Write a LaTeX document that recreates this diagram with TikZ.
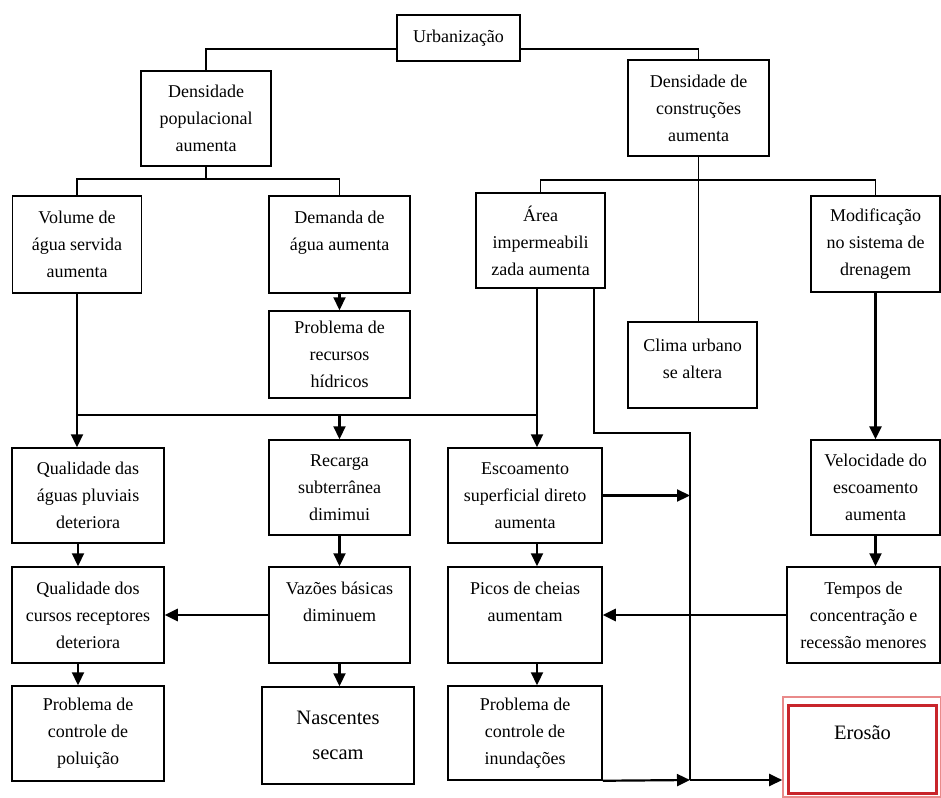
\documentclass[tikz,border=0pt]{standalone}
\usepackage{fontspec}
\setmainfont{Liberation Serif}
\usetikzlibrary{arrows.meta}
\definecolor{redout}{HTML}{E98A8A}
\definecolor{redin}{HTML}{C8252B}
\begin{document}
\begin{tikzpicture}[x=1pt,y=-1pt,
  box/.style={draw, line width=1.5pt, align=center, inner sep=0pt, font=\fontsize{18}{27}\selectfont},
  bigbox/.style={box, font=\fontsize{20.5}{35}\selectfont},
  ln/.style={line width=1.3pt},
  arr/.style={line width=2.2pt, -{Triangle[length=13pt,width=12pt]}}]
\useasboundingbox (0,0) rectangle (941,797);
% boxes
\node[box, minimum width=123, minimum height=46] (urb) at (458.5,38) {Urbanização};
\node[box, minimum width=130, minimum height=95] (dpop) at (206,118.5) {Densidade\\populacional\\aumenta};
\node[box, minimum width=141, minimum height=96] (dcon) at (698.5,108) {Densidade de\\construções\\aumenta};
\node[box, minimum width=129, minimum height=97] (vol) at (77,244.5) {Volume de\\água servida\\aumenta};
\node[box, minimum width=141, minimum height=97] (dem) at (339.5,244.5) {Demanda de\\água aumenta\\\mbox{}};
\node[box, minimum width=129, minimum height=95] (area) at (540.5,240.5) {Área\\impermeabili\\zada aumenta};
\node[box, minimum width=129, minimum height=96] (mod) at (875.5,244) {Modificação\\no sistema de\\drenagem};
\node[box, minimum width=141, minimum height=87] (prob) at (339.5,354.5) {Problema de\\recursos\\hídricos};
\node[box, minimum width=129, minimum height=86] (clima) at (692.5,365) {Clima urbano\\se altera\\[-14pt]\mbox{}};
\node[box, minimum width=152, minimum height=95] (qa) at (88,495.5) {Qualidade das\\águas pluviais\\deteriora};
\node[box, minimum width=141, minimum height=95] (rec) at (339.5,487.5) {Recarga\\subterrânea\\dimimui};
\node[box, minimum width=154, minimum height=95] (esc) at (525,495.5) {Escoamento\\superficial direto\\aumenta};
\node[box, minimum width=129, minimum height=95] (vel) at (875.5,487.5) {Velocidade do\\escoamento\\aumenta};
\node[box, minimum width=152, minimum height=96] (qc) at (88,615) {Qualidade dos\\cursos receptores\\deteriora};
\node[box, minimum width=141, minimum height=96] (vaz) at (339.5,615) {Vazões básicas\\diminuem\\\mbox{}};
\node[box, minimum width=154, minimum height=96] (picos) at (525,615) {Picos de cheias\\aumentam\\\mbox{}};
\node[box, minimum width=153, minimum height=96] (tempos) at (863.5,615) {Tempos de\\concentração e\\recessão menores};
\node[box, minimum width=152, minimum height=95] (pol) at (88,733.5) {Problema de\\controle de\\poluição};
\node[bigbox, minimum width=152, minimum height=97] (nasc) at (338,735.5) {Nascentes\\secam};
\node[box, minimum width=154, minimum height=94] (inund) at (525,733) {Problema de\\controle de\\inundações};
\node[draw=redout, line width=1.6pt, minimum width=158, minimum height=100, inner sep=0pt] (eroso) at (862,747) {};
\node[draw=redin, line width=3pt, minimum width=148, minimum height=88, inner sep=0pt, align=center, font=\fontsize{20.5}{32}\selectfont] (eros) at (862.5,749) {Erosão\\\mbox{}};
% tree connectors
\draw[ln] ([yshift=-11pt]urb.west) -| (dpop.north);
\draw[ln] ([yshift=-11pt]urb.east) -| (dcon.north);
\coordinate (bp) at (206,179);
\draw[ln] (dpop.south) -- (bp);
\draw[ln] (vol.north) |- (bp) -| (dem.north);
\coordinate (bc) at (698.5,180);
\draw[ln] (dcon.south) -- (dcon.south |- clima.north);
\draw[ln] (area.north) |- (bc) -| (mod.north);
% collector line
\coordinate (hl) at (77,415);
\coordinate (hm) at (339.5,415);
\coordinate (hr) at (537,415);
\draw[line width=1.8pt] (vol.south) -- (hl);
\draw[ln] (hl) -- (hr);
\draw[line width=2.2pt] ([xshift=-3.5pt]area.south) -- (hr);
\draw[arr] (hl) -- (hl |- qa.north);
\draw[arr] (hm) -- (rec.north);
\draw[arr] (hr) -- (hr |- esc.north);
\draw[arr] (dem.south) -- (prob.north);
% right path from area
\coordinate (c2) at (690,433);
\coordinate (c3) at (690,780);
\draw[ln] ([xshift=53.5pt]area.south) |- (c2) -- (c3);
\draw[arr] (esc.east) -- (esc.east -| c2);
\draw[arr] (inund.south east) -- (c3);
\draw[arr] (c3) -- (c3 -| eroso.west);
% vertical chains
\draw[arr] ([xshift=-10pt]qa.south) -- ([xshift=-10pt]qc.north);
\draw[arr] ([xshift=-10pt]qc.south) -- ([xshift=-10pt]pol.north);
\draw[arr] (rec.south) -- (vaz.north);
\draw[arr] (vaz.south) -- (vaz.south |- nasc.north);
\draw[arr] ([xshift=12pt]esc.south) -- ([xshift=12pt]picos.north);
\draw[arr] ([xshift=12pt]picos.south) -- ([xshift=12pt]inund.north);
\draw[arr, line width=2.6pt] (mod.south) -- (vel.north);
\draw[arr] (vel.south) -- (vel.south |- tempos.north);
% horizontal arrows
\draw[arr, line width=2.8pt] (vaz.west) -- (qc.east);
\draw[arr, line width=2.8pt] (tempos.west) -- (picos.east);
\end{tikzpicture}
\end{document}
